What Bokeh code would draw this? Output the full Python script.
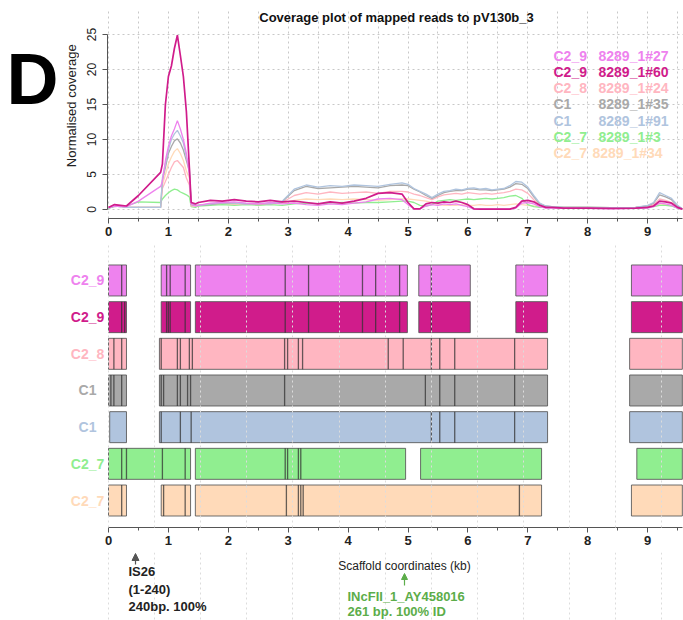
import math
from bokeh.plotting import figure
from bokeh.models import (Range1d, FixedTicker, Label, LabelSet, ColumnDataSource,
                          Arrow, NormalHead, Grid)
from bokeh.layouts import column, row
from bokeh.core.properties import value
from bokeh.embed import file_html
from bokeh.resources import INLINE

# ---------------- data ----------------
track_names = ["C2_9", "C2_9", "C2_8", "C1", "C1", "C2_7", "C2_7"]
sample_ids = ["8289_1#27", "8289_1#60", "8289_1#24", "8289_1#35", "8289_1#91", "8289_1#3", "8289_1#34"]
track_colors = ["#EE82EE", "#D01C8B", "#FFB6C1", "#A9A9A9", "#B0C4DE", "#90EE90", "#FFDAB9"]

cov_x = [0.0, 0.1, 0.2, 0.3, 0.5,
         0.87, 0.9, 0.95, 1.0, 1.05, 1.1, 1.15, 1.2, 1.25, 1.3, 1.35, 1.38, 1.45,
         1.5, 1.7, 1.9, 2.1, 2.3, 2.5, 2.7, 2.9, 3.1, 3.3, 3.5, 3.7, 3.9, 4.1, 4.3, 4.5, 4.7, 4.9,
         5.0, 5.1, 5.2, 5.3, 5.4, 5.5, 5.6, 5.7, 5.8, 5.9, 6.0, 6.1, 6.2, 6.3, 6.4, 6.5, 6.6, 6.7, 6.8, 6.9, 7.0, 7.1, 7.2, 7.3, 7.4,
         7.6, 8.0, 8.4, 8.8,
         9.0, 9.1, 9.2, 9.3, 9.4, 9.5, 9.58]

cov_c2_9_27 = [0.3, 0.5, 0.4, 0.4, 1.2,
               3.3, 4.0, 7.0, 9.0, 10.5, 11.5, 12.7, 11.5, 10.0, 8.0, 5.0, 0.8, 0.5,
               0.6, 0.9, 1.0, 1.1, 0.9, 0.8, 1.0, 0.8, 0.9, 0.7, 0.6, 0.8, 0.7, 0.9, 1.1, 1.5, 1.6, 1.4,
               0.7, 0.1, 0.1, 0.5, 0.7, 0.6, 0.8, 0.7, 0.8, 0.6, 0.4, 0.05, 0.05, 0.05, 0.05, 0.05, 0.05, 0.05, 0.2, 0.9, 1.0, 0.8, 0.4, 0.2, 0.2,
               0.15, 0.15, 0.1, 0.15,
               0.2, 0.4, 0.9, 0.8, 0.6, 0.2, 0.05]
cov_c2_9_60 = [0.3, 0.7, 0.6, 0.5, 2.0,
               5.3, 6.5, 15.0, 19.0, 20.5, 23.0, 24.9, 22.0, 19.0, 14.0, 6.0, 1.0, 0.8,
               1.0, 1.3, 1.2, 1.4, 1.2, 1.1, 1.3, 1.1, 1.2, 1.0, 0.8, 1.1, 0.9, 1.2, 1.6, 2.3, 2.4, 2.2,
               1.0, 0.1, 0.1, 0.8, 1.0, 0.9, 1.1, 1.0, 1.2, 1.0, 0.7, 0.1, 0.05, 0.05, 0.05, 0.05, 0.05, 0.05, 0.3, 1.2, 1.3, 1.1, 0.6, 0.3, 0.3,
               0.2, 0.2, 0.15, 0.2,
               0.3, 0.5, 1.2, 1.1, 0.9, 0.3, 0.05]
cov_c2_8_24 = [0.3, 0.6, 0.5, 0.3, 0.3,
               0.3, 3.0, 4.0, 5.0, 6.0, 6.8, 7.0, 6.5, 6.0, 4.5, 3.5, 0.5, 0.5,
               0.6, 0.8, 0.9, 0.8, 0.8, 0.7, 0.8, 1.0, 2.0, 2.4, 2.2, 2.5, 2.3, 2.4, 2.5, 2.3, 2.6, 2.6,
               2.5, 2.2, 2.0, 1.7, 1.4, 1.8, 2.1, 2.2, 2.3, 2.2, 2.4, 2.3, 2.2, 2.3, 2.2, 2.3, 2.4, 2.6, 2.9, 2.8, 2.3, 1.4, 0.7, 0.4, 0.3,
               0.3, 0.3, 0.2, 0.3,
               0.4, 0.7, 1.5, 1.3, 1.0, 0.4, 0.1]
cov_c1_35 = [0.2, 0.4, 0.5, 0.3, 0.3,
             0.3, 4.2, 6.0, 8.0, 9.0, 9.8, 10.1, 9.5, 8.5, 7.0, 5.5, 0.7, 0.6,
             0.6, 0.7, 0.9, 0.9, 0.8, 0.8, 0.8, 1.1, 2.7, 3.3, 3.0, 3.1, 3.2, 3.3, 3.2, 3.1, 3.4, 3.5,
             3.4, 2.9, 2.5, 2.0, 1.6, 2.0, 2.4, 2.6, 2.7, 2.7, 2.9, 2.9, 2.8, 2.8, 2.7, 2.8, 2.9, 3.2, 3.7, 3.6, 3.0, 1.8, 0.8, 0.5, 0.4,
             0.3, 0.3, 0.25, 0.3,
             0.5, 0.9, 2.1, 1.8, 1.4, 0.5, 0.1]
cov_c1_91 = [0.2, 0.5, 0.4, 0.3, 0.3,
             0.3, 4.5, 6.5, 8.5, 10.0, 10.8, 11.3, 10.5, 9.5, 7.5, 6.0, 0.8, 0.6,
             0.6, 0.8, 1.0, 0.9, 0.8, 0.9, 0.8, 1.2, 2.9, 3.5, 3.2, 3.4, 3.3, 3.5, 3.4, 3.3, 3.6, 3.8,
             3.6, 3.0, 2.6, 2.2, 1.7, 2.2, 2.6, 2.7, 2.9, 2.8, 3.0, 3.1, 2.9, 3.0, 2.8, 2.9, 3.0, 3.4, 4.0, 3.9, 3.2, 2.0, 0.9, 0.5, 0.4,
             0.3, 0.3, 0.25, 0.3,
             0.6, 1.0, 2.4, 2.0, 1.6, 0.6, 0.1]
cov_c2_7_3 = [0.2, 0.5, 0.4, 0.5, 1.1,
              1.0, 1.5, 2.0, 2.4, 2.7, 2.9, 2.8, 2.5, 2.3, 2.1, 1.8, 0.4, 0.3,
              0.5, 0.6, 0.7, 0.6, 0.7, 0.6, 0.7, 0.6, 0.8, 0.9, 0.8, 0.9, 1.0, 0.9, 1.0, 1.0, 1.1, 1.2,
              1.2, 1.0, 0.6, 0.5, 0.7, 1.2, 1.3, 1.4, 1.3, 1.4, 1.5, 1.4, 1.5, 1.6, 1.5, 1.6, 1.7, 1.9, 2.0, 1.6, 0.7, 0.4, 0.3, 0.3, 0.3,
              0.3, 0.3, 0.25, 0.2,
              0.3, 0.4, 0.6, 0.6, 0.5, 0.2, 0.05]
cov_c2_7_34 = [0.3, 0.5, 0.5, 0.3, 0.3,
               0.3, 3.5, 5.0, 6.5, 7.5, 8.3, 8.7, 8.0, 7.0, 5.5, 4.5, 0.6, 0.6,
               0.6, 0.7, 0.8, 0.7, 0.8, 0.7, 0.8, 0.9, 1.3, 1.5, 1.4, 1.5, 1.4, 1.5, 1.4, 1.3, 1.4, 1.5,
               1.5, 1.4, 1.3, 1.2, 1.0, 0.7, 0.6, 0.6, 0.6, 0.7, 0.6, 0.6, 0.7, 0.6, 0.6, 0.7, 0.6, 0.7, 0.8, 0.7, 0.6, 0.5, 0.4, 0.3, 0.3,
               0.3, 0.3, 0.25, 0.3,
               0.4, 0.5, 0.8, 0.7, 0.6, 0.2, 0.05]

# alignment blocks (kb) per track, top row first
block_track = [0, 0, 0, 0, 0, 0,
               1, 1, 1, 1, 1, 1,
               2, 2, 2,
               3, 3, 3,
               4, 4, 4,
               5, 5, 5, 5,
               6, 6, 6, 6]
block_start = [0.0, 0.88, 1.45, 5.18, 6.80, 8.73,
               0.0, 0.88, 1.45, 5.18, 6.80, 8.73,
               0.0, 0.85, 8.70,
               0.0, 0.85, 8.70,
               0.02, 0.85, 8.70,
               0.0, 1.45, 5.21, 8.82,
               0.0, 0.88, 1.45, 8.73]
block_end = [0.30, 1.37, 4.99, 6.04, 7.33, 9.58,
             0.30, 1.37, 4.99, 6.04, 7.33, 9.58,
             0.30, 7.33, 9.58,
             0.30, 7.33, 9.58,
             0.30, 7.33, 9.58,
             1.37, 4.96, 7.23, 9.58,
             0.30, 1.37, 7.23, 9.58]

# internal contig boundaries (kb) per track
marks_c2_9_27 = [0.22, 0.97, 1.03, 1.28, 2.95, 3.34, 4.24, 4.46, 4.86, 5.39]
marks_c2_9_60 = [0.22, 0.27, 0.97, 1.00, 1.03, 1.28, 2.95, 3.34, 4.24, 4.46, 4.86, 5.39]
marks_c2_8_24 = [0.09, 0.22, 0.88, 1.15, 1.20, 1.35, 1.40, 2.94, 2.99, 3.17, 3.24, 4.67, 4.92, 5.39, 5.53, 5.78, 6.78]
marks_c1_35 = [0.04, 0.09, 0.22, 0.88, 0.92, 1.15, 1.20, 1.32, 1.37, 2.94, 5.29, 5.53, 5.78, 6.78]
marks_c1_91 = [0.88, 1.20, 1.38, 5.39, 5.53, 5.78, 6.78]
marks_c2_7_3 = [0.22, 0.30, 0.90, 1.28, 2.95, 2.99, 3.17, 3.21]
marks_c2_7_34 = [0.22, 0.92, 1.28, 2.97, 3.17, 3.21, 3.25, 6.86]

cov_series = [cov_c2_9_27, cov_c2_9_60, cov_c2_8_24, cov_c1_35, cov_c1_91, cov_c2_7_3, cov_c2_7_34]
mark_series = [marks_c2_9_27, marks_c2_9_60, marks_c2_8_24, marks_c1_35, marks_c1_91, marks_c2_7_3, marks_c2_7_34]
for s in cov_series:
    assert len(s) == len(cov_x)

x_ticks = [0, 1, 2, 3, 4, 5, 6, 7, 8, 9]
y_ticks = [0, 5, 10, 15, 20, 25]

# ---------------- geometry helpers (picture pixels -> data) ----------------
FONT = "Liberation Sans"
X0PX, SPX = 108.0, 59.9          # picture x of 0 kb, pixels per kb
def kb(px):
    return (px - X0PX) / SPX
def cov(py):                      # top panel: 0 at y=209, 7 px per unit
    return (209.0 - py) / 7.0
ROWPX = 36.67
def rowv(py):                     # bottom panel: row value 1 at y=500
    return 1.0 + (500.0 - py) / ROWPX

W = 683
LEFT_W = 79
TOP_H = 244
MID_BOTTOM = 552
GRID_KB = [round(0.77 * k, 2) for k in range(13)]


def style_xaxis(ax):
    ax.ticker = FixedTicker(ticks=x_ticks, minor_ticks=[0.5 * k for k in range(20)])
    ax.bounds = (0, 9.58)
    ax.axis_line_color = "#555555"
    ax.major_tick_line_color = "#555555"
    ax.minor_tick_line_color = "#555555"
    ax.major_tick_in = 0
    ax.major_tick_out = 5
    ax.minor_tick_in = 0
    ax.minor_tick_out = 3
    ax.major_label_text_font = FONT
    ax.major_label_text_color = "#222222"
    ax.major_label_text_font_size = "13px"
    ax.major_label_text_font_style = "bold"
    ax.major_label_standoff = 3


def blank_fig(width, height, xr, yr):
    f = figure(width=width, height=height, output_backend="svg", toolbar_location=None,
               x_range=xr, y_range=yr, x_axis_location=None, y_axis_location=None,
               min_border_left=0, min_border_right=0, min_border_top=0, min_border_bottom=0)
    f.outline_line_color = None
    for g_ in f.grid:
        g_.visible = False
    return f

# ---------------- left strip: panel letter and y label ----------------
pL = blank_fig(LEFT_W, TOP_H, Range1d(0, LEFT_W), Range1d(TOP_H, 0))
pL.add_layout(Label(x=6, y=82, text="D", text_align="left", text_baseline="alphabetic",
                    text_font=FONT, text_font_size="72px", text_font_style="bold", text_color="black"))
pL.add_layout(Label(x=71, y=113, text="Normalised coverage", angle=math.pi / 2,
                    text_align="center", text_baseline="middle", text_font=FONT,
                    text_font_size="13px", text_color="#222222"))

# ---------------- top panel: coverage ----------------
p1 = figure(width=W - LEFT_W, height=TOP_H, output_backend="svg", toolbar_location=None,
            x_range=Range1d(kb(107), kb(W)), y_range=Range1d(cov(218), cov(8)),
            min_border_left=107 - LEFT_W, min_border_right=0, min_border_top=8,
            min_border_bottom=TOP_H - 218)
p1.outline_line_color = None

style_xaxis(p1.xaxis[0])
ya = p1.yaxis[0]
ya.ticker = FixedTicker(ticks=y_ticks, minor_ticks=[])
ya.bounds = (0, 25)
ya.major_label_orientation = "vertical"
ya.axis_line_color = "#555555"
ya.major_tick_line_color = "#555555"
ya.major_tick_in = 0
ya.major_tick_out = 5
ya.major_label_text_font = FONT
ya.major_label_text_color = "#222222"
ya.major_label_text_font_size = "12px"
ya.major_label_standoff = 7

p1.xgrid.ticker = FixedTicker(ticks=[0.5 * k for k in range(20)])
p1.ygrid.ticker = FixedTicker(ticks=y_ticks)
for g in (p1.xgrid[0], p1.ygrid[0]):
    g.grid_line_color = "#c8c8c8"
    g.grid_line_dash = "2 3"
    g.grid_line_width = 1

draw_order = [6, 5, 2, 3, 4, 0, 1]
for i in draw_order:
    p1.line(cov_x, cov_series[i], line_color=track_colors[i],
            line_width=1.7 if i == 1 else 1.3)

p1.add_layout(Label(x=kb(396), y=cov(17), text="Coverage plot of mapped reads to pV130b_3",
                    text_align="center", text_baseline="middle", text_font=FONT,
                    text_font_size="13px", text_font_style="bold", text_color="#111111"))

for i in range(7):
    py = 55 + i * 16.3
    p1.add_layout(Label(x=kb(553), y=cov(py), text=track_names[i], text_align="left",
                        text_baseline="middle", text_font=FONT, text_font_size="14px",
                        text_font_style="bold", text_color=track_colors[i]))
    p1.add_layout(Label(x=kb(592 if i == 6 else 598), y=cov(py), text=sample_ids[i], text_align="left",
                        text_baseline="middle", text_font=FONT, text_font_size="14px",
                        text_font_style="bold", text_color=track_colors[i]))

# ---------------- middle panel: contig tracks ----------------
p2 = figure(width=W, height=MID_BOTTOM - TOP_H, output_backend="svg", toolbar_location=None,
            x_range=Range1d(kb(0), kb(W)), y_range=Range1d(rowv(527), rowv(TOP_H)),
            min_border_left=0, min_border_right=0, min_border_top=0,
            min_border_bottom=MID_BOTTOM - 527)
p2.outline_line_color = None
p2.yaxis.visible = False
p2.ygrid.visible = False
style_xaxis(p2.xaxis[0])

g = p2.xgrid[0]
g.ticker = FixedTicker(ticks=GRID_KB)
g.grid_line_color = "#dcdcdc"
g.grid_line_dash = "2 3"
g.grid_line_width = 1
g.level = "overlay"

HALF = 15.5 / ROWPX
row_val = [7 - t for t in block_track]
src_blocks = ColumnDataSource(dict(
    left=block_start, right=block_end,
    bottom=[v - HALF for v in row_val], top=[v + HALF for v in row_val],
    color=[track_colors[t] for t in block_track]))
p2.quad(left="left", right="right", bottom="bottom", top="top", fill_color="color",
        line_color="#555555", line_alpha=0.85, line_width=1, source=src_blocks)

mx, my0, my1 = [], [], []
for t, marks in enumerate(mark_series):
    for m in marks:
        mx.append(m)
        my0.append(7 - t - HALF)
        my1.append(7 - t + HALF)
p2.segment(x0=mx, x1=mx, y0=my0, y1=my1, line_color="#333333", line_alpha=0.75, line_width=1.3)

src_lab = ColumnDataSource(dict(x=[kb(87)] * 7, y=[7 - i for i in range(7)],
                                text=track_names, color=track_colors))
p2.add_layout(LabelSet(x="x", y="y", text="text", text_color="color", source=src_lab,
                       text_align="center", text_baseline="middle",
                       text_font=value(FONT), text_font_size=value("14px"),
                       text_font_style=value("bold")))

# ---------------- bottom strip: annotations ----------------
H3 = 620 - MID_BOTTOM
p3 = blank_fig(W, H3, Range1d(kb(0), kb(W)), Range1d(620, MID_BOTTOM))
p3.add_layout(Grid(dimension=0, ticker=FixedTicker(ticks=GRID_KB), grid_line_color="#dcdcdc",
                   grid_line_dash="2 3", grid_line_width=1))

p3.add_layout(Label(x=kb(404), y=565, text="Scaffold coordinates (kb)", text_align="center",
                    text_baseline="middle", text_font=FONT, text_font_size="12px", text_color="#222222"))

p3.add_layout(Arrow(x_start=kb(135), y_start=564, x_end=kb(135), y_end=553,
                    line_color="#555555", line_width=1.2,
                    end=NormalHead(size=7, fill_color="#555555", line_color="#555555")))
for j, txt in enumerate(["IS26", "(1-240)", "240bp. 100%"]):
    p3.add_layout(Label(x=kb(128), y=571 + 17.5 * j, text=txt, text_align="left",
                        text_baseline="middle", text_font=FONT, text_font_size="13px",
                        text_font_style="bold", text_color="#222222"))

GREEN = "#5cad4a"
p3.add_layout(Arrow(x_start=kb(404), y_start=585, x_end=kb(404), y_end=573,
                    line_color=GREEN, line_width=1.2,
                    end=NormalHead(size=6, fill_color=GREEN, line_color=GREEN)))
for j, txt in enumerate(["INcFII_1_AY458016", "261 bp. 100% ID"]):
    p3.add_layout(Label(x=kb(347), y=596 + 15 * j, text=txt, text_align="left",
                        text_baseline="middle", text_font=FONT, text_font_size="13px",
                        text_font_style="bold", text_color=GREEN))

layout = column(row(pL, p1, spacing=0), p2, p3, spacing=0)
open("out.html", "w").write(file_html(layout, INLINE))
